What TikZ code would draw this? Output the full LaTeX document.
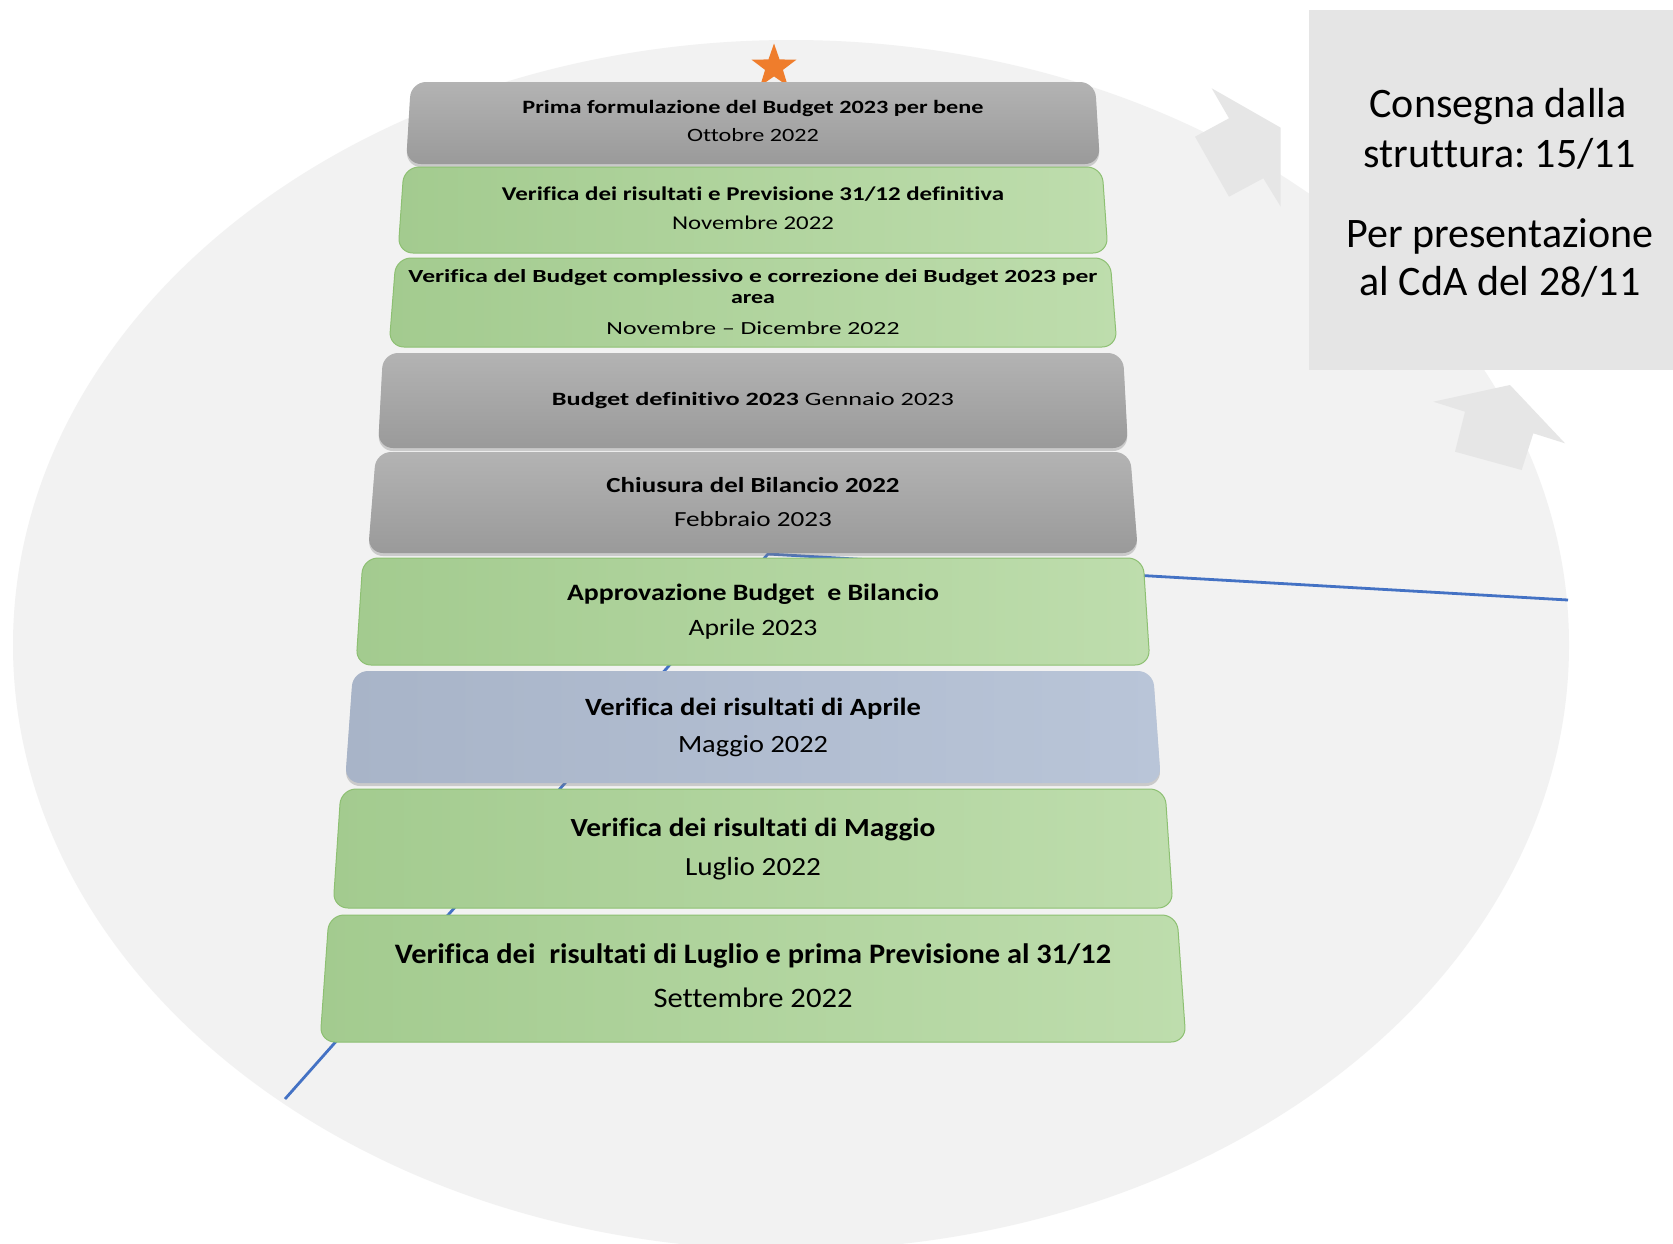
\documentclass[tikz,border=0pt]{standalone}
\usepackage{fontspec}
\setmainfont{Carlito}[Ligatures=NoCommon]
\usepackage{graphicx}
\usetikzlibrary{shapes.geometric,shadows}
\definecolor{ellfill}{HTML}{F2F2F2}
\definecolor{arrfill}{HTML}{E6E6E6}
\definecolor{notefill}{HTML}{E5E5E5}
\definecolor{lineblue}{HTML}{4472C4}
\definecolor{starorange}{HTML}{EF7D2C}
\definecolor{grayA}{HTML}{B3B3B3}
\definecolor{grayB}{HTML}{9A9A9A}
\definecolor{greenA}{HTML}{A3CB8F}
\definecolor{greenB}{HTML}{BEDDAD}
\definecolor{greenEdge}{HTML}{8DC072}
\definecolor{blueA}{HTML}{A8B4C8}
\definecolor{blueB}{HTML}{B9C5D8}
\tikzset{
  graystep/.style={top color=grayA, bottom color=grayB, draw=none,
    drop shadow={opacity=0.35, shadow xshift=0pt, shadow yshift=-3pt}},
  greenstep/.style={left color=greenA, right color=greenB, draw=greenEdge, line width=1pt},
  bluestep/.style={left color=blueA, right color=blueB, draw=none,
    drop shadow={opacity=0.35, shadow xshift=0pt, shadow yshift=-3pt}},
  lbl/.style={anchor=base, inner sep=0pt, text=black},
  notetext/.style={anchor=base, inner sep=0pt, text=black, font=\fontsize{42}{50}\selectfont},
}
\newcommand\stepbox[5]{% style, ytop, ybot, half width top, half width bottom
  \path[#1, rounded corners=15pt] ({753-#4},#2) -- ({753+#4},#2) -- ({753+#5},#3) -- ({753-#5},#3) -- cycle;}
\newcommand\wl[2]{\resizebox{#1pt}{\height}{#2}}
\newcommand\fs[1]{\fontsize{#1}{#1}\selectfont}
\frenchspacing
\begin{document}
\begin{tikzpicture}[x=1pt, y=-1pt]
\useasboundingbox (0,0) rectangle (1673,1243);
\fill[white] (0,0) rectangle (1673,1243);
% background ellipse
\fill[ellfill] (791,645) ellipse [x radius=778pt, y radius=605pt];
% arrow heads of the cycle
\fill[arrfill] (1211.7,88.3) -- (1280.7,127.7) -- (1280.7,206.7) -- (1263.3,178.3) -- (1229,196.7) -- (1195,136.7) -- (1229,118.3) -- cycle;
\fill[arrfill] (1433.3,401.7) -- (1510,385) -- (1565,443.3) -- (1533.3,433.3) -- (1521.7,470) -- (1455,451.7) -- (1465,411.7) -- cycle;
% note box
\fill[notefill] (1309,10) rectangle (1673,370);
\node[notetext] (n1) at (1498,117) {Consegna dalla};
\node[notetext] (n2) at (1500,167) {struttura: 15/11};
\node[notetext] (n3) at (1500,247) {Per presentazione};
\node[notetext] (n4) at (1500,295) {al CdA del 28/11};
% blue line
\coordinate (lnA) at (285,1099);
\coordinate (lnB) at (768,554);
\coordinate (lnC) at (1568,600);
\draw[lineblue, line width=2.8pt] (lnA) -- (lnB) -- (lnC);
% star
\node[star, star points=5, star point ratio=2.5, fill=starorange, minimum size=47pt, inner sep=0pt] (star) at (774,67) {};
% steps
\stepbox{graystep}{82}{164}{342}{347}
\stepbox{greenstep}{167}{253}{349}{355}
\stepbox{greenstep}{258}{347}{357}{364}
\stepbox{graystep}{353}{448}{370}{375}
\stepbox{graystep}{452}{553}{377}{385}
\stepbox{greenstep}{558}{665}{390}{397}
\stepbox{bluestep}{671}{783}{400}{408}
\stepbox{greenstep}{789}{908}{412}{420}
\stepbox{greenstep}{915}{1042}{424}{433}
% texts
\node[lbl, font=\fs{18.8}] (s1a) at (753,113) {\wl{461}{\textbf{Prima formulazione del Budget 2023 per bene}}};
\node[lbl, font=\fs{18.8}] (s1b) at (753,141) {\wl{132}{Ottobre 2022}};
\node[lbl, font=\fs{19.5}] (s2a) at (753,200) {\wl{502}{\textbf{Verifica dei risultati e Previsione 31/12 definitiva}}};
\node[lbl, font=\fs{19.5}] (s2b) at (753,229) {\wl{162}{Novembre 2022}};
\node[lbl, font=\fs{18.5}] (s3a) at (753,282) {\wl{689}{\textbf{Verifica del Budget complessivo e correzione dei Budget 2023 per}}};
\node[lbl, font=\fs{18.5}] (s3b) at (753,303) {\wl{44}{\textbf{area}}};
\node[lbl, font=\fs{18.5}] (s3c) at (753,334) {\wl{293}{Novembre – Dicembre 2022}};
\node[lbl, font=\fs{18.8}] (s4a) at (753,405) {\wl{402}{\textbf{Budget definitivo 2023} Gennaio 2023}};
\node[lbl, font=\fs{21.5}] (s5a) at (753,492) {\wl{293}{\textbf{Chiusura del Bilancio 2022}}};
\node[lbl, font=\fs{21.5}] (s5b) at (753,526) {\wl{158}{Febbraio 2023}};
\node[lbl, font=\fs{23.5}] (s6a) at (753,600.5) {\wl{372}{\textbf{Approvazione Budget~ e Bilancio}}};
\node[lbl, font=\fs{23.5}] (s6b) at (753,635.5) {\wl{129}{Aprile 2023}};
\node[lbl, font=\fs{24.8}] (s7a) at (753,715) {\wl{336}{\textbf{Verifica dei risultati di Aprile}}};
\node[lbl, font=\fs{24.8}] (s7b) at (753,752) {\wl{150}{Maggio 2022}};
\node[lbl, font=\fs{26.2}] (s8a) at (753,836.5) {\wl{365}{\textbf{Verifica dei risultati di Maggio}}};
\node[lbl, font=\fs{26.2}] (s8b) at (753,875.5) {\wl{136}{Luglio 2022}};
\node[lbl, font=\fs{28.2}] (s9a) at (753,963) {\wl{716}{\textbf{Verifica dei~ risultati di Luglio e prima Previsione al 31/12}}};
\node[lbl, font=\fs{28.2}] (s9b) at (753,1007) {\wl{199}{Settembre 2022}};
\end{tikzpicture}
\end{document}
